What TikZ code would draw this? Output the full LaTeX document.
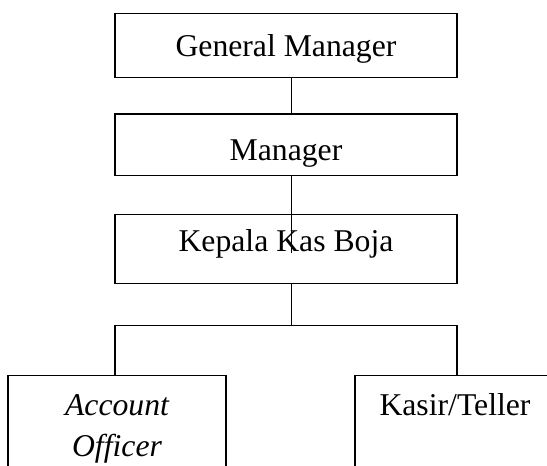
\documentclass[tikz,border=0pt]{standalone}
\usepackage{fontspec}
\setmainfont{Liberation Serif}
\usetikzlibrary{positioning}
\tikzstyle{orgbox} = [draw, rectangle, line width=0.75pt, outer sep=0pt,
   minimum width=171pt, text depth=0pt,
   font=\fontsize{15.85}{20.85}\selectfont]
\tikzstyle{lowbox} = [orgbox, anchor=north, inner ysep=0pt, align=center,
   text height=19.65pt, text depth=60pt]
\tikzstyle{link} = [line width=0.75pt]

\begin{document}
\begin{tikzpicture}[x=0.5pt, y=-0.5pt]
  \useasboundingbox (0,0) rectangle (547,466);
  \clip (0,0) rectangle (547,466); % lower boxes run off the page
  \coordinate (spine) at (291.7,0); % the links sit right of the box centres
  \coordinate (fork) at (291.7,325.7);

  \node[orgbox, minimum height=32.2pt, text height=10.5pt] (gm) at (286,45.5) {General Manager};
  \node[orgbox, minimum height=30.75pt, text height=15.6pt, below=18.15pt of gm] (mgr) {Manager};
  \node[orgbox, minimum height=34.6pt, text height=2.8pt, below=19.4pt of mgr] (kkb) {Kepala Kas Boja};
  \node[lowbox, minimum width=109pt, text height=40.5pt, font=\fontsize{15.85}{20.85}\selectfont\itshape] (ao) at (117,375.7) {Account\\Officer};
  \node[lowbox, minimum width=100pt, right=64.5pt of ao.north east, anchor=north west] (teller) {Kasir/Teller};

  \draw[link] (gm.south -| spine) -- (mgr.north -| spine);
  \draw[link] (mgr.south -| spine) -- ([yshift=-2pt]kkb.center -| spine);
  \draw[link] (kkb.south -| spine) -- (fork);
  \draw[link] (ao.north -| kkb.west) |- (fork) -| (teller.north -| kkb.east);
\end{tikzpicture}
\end{document}
